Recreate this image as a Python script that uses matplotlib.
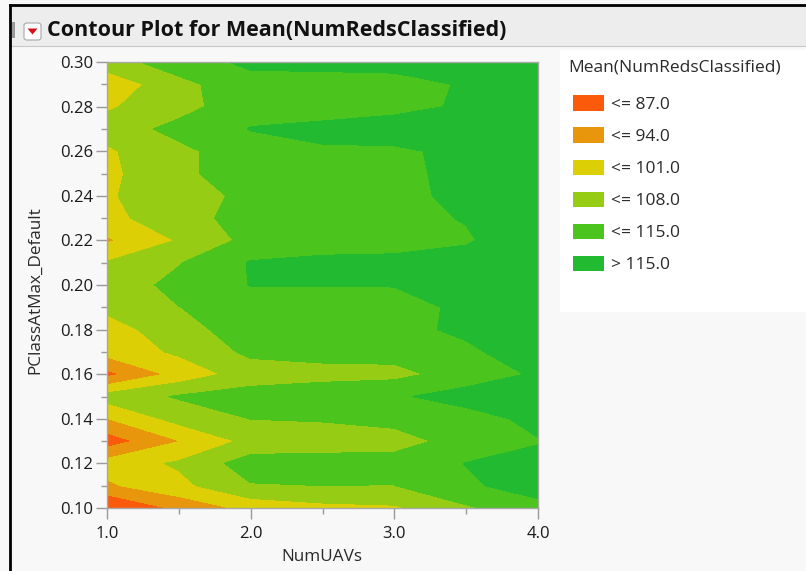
import numpy as np
import matplotlib.pyplot as plt
from matplotlib.patches import Rectangle, Polygon, FancyBboxPatch

plt.rcParams['font.family'] = ['Open Sans', 'DejaVu Sans']

# grid of runs: NumUAVs across, PClassAtMax_Default down the side
num_uavs = [1.0, 1.5, 2.0, 2.5, 3.0, 3.5, 4.0]
pclass = [0.10, 0.11, 0.12, 0.13, 0.14, 0.15, 0.16, 0.17, 0.18, 0.19, 0.20,
          0.21, 0.22, 0.23, 0.24, 0.25, 0.26, 0.27, 0.28, 0.29, 0.30]

# Mean(NumRedsClassified), one row per pclass value (bottom to top)
mean_reds = [
    [78.5, 88.7, 96.1, 99.0, 100.0, 107.0, 113.0],
    [92.9, 99.0, 107.5, 108.0, 107.9, 114.0, 117.8],
    [97.0, 102.0, 111.4, 110.5, 110.0, 115.2, 117.0],
    [83.2, 93.8, 103.0, 105.0, 106.0, 110.0, 114.6],
    [93.8, 103.5, 108.1, 108.5, 109.5, 112.0, 117.0],
    [104.0, 108.7, 111.0, 111.5, 114.0, 118.0, 118.0],
    [84.9, 96.5, 104.4, 106.0, 106.0, 111.0, 116.0],
    [96.7, 102.1, 109.5, 110.0, 110.5, 114.0, 118.0],
    [98.0, 105.0, 112.0, 113.0, 113.5, 116.0, 117.5],
    [102.6, 107.9, 111.0, 112.5, 113.0, 116.1, 117.5],
    [104.0, 110.0, 115.2, 115.2, 115.2, 116.5, 117.5],
    [101.5, 107.6, 115.5, 116.0, 116.0, 116.5, 117.5],
    [93.0, 101.5, 110.1, 113.0, 113.5, 114.6, 117.5],
    [99.0, 105.2, 110.8, 113.5, 114.0, 115.2, 117.0],
    [100.0, 106.5, 108.8, 113.5, 114.0, 115.9, 117.5],
    [99.5, 106.0, 113.0, 114.0, 114.3, 115.8, 117.5],
    [100.1, 106.0, 113.0, 114.5, 114.2, 116.2, 117.5],
    [103.5, 110.5, 115.2, 116.1, 117.5, 117.5, 117.5],
    [100.2, 105.0, 113.3, 113.0, 113.5, 115.7, 117.0],
    [96.0, 106.0, 112.5, 113.0, 113.5, 115.4, 117.0],
    [105.0, 111.5, 116.5, 116.5, 116.5, 117.0, 117.0],
]

levels = [87.0, 94.0, 101.0, 108.0, 115.0]
fill_colors = ['#FA5A0A', '#E8960C', '#DCCF06', '#96CD14', '#4CC41E', '#22BA30']
legend_labels = ['<= %.1f' % v for v in levels] + ['> %.1f' % levels[-1]]

W, H = 806, 571
fig = plt.figure(figsize=(W / 100, H / 100), dpi=100)
fig.patch.set_facecolor('#F8F8F8')


def fx(px):
    return px / W


def fy(py):
    return 1 - py / H


# outline and header strip
fig.add_artist(Rectangle((fx(10), fy(46)), fx(806) - fx(10), fy(6) - fy(46),
                         transform=fig.transFigure, facecolor='#EDEDED',
                         edgecolor='#C8C8C8', lw=0.8))
fig.add_artist(plt.Line2D([fx(10), fx(10)], [fy(5), 0], transform=fig.transFigure,
                          color='black', lw=2))
fig.add_artist(plt.Line2D([fx(10), 1], [fy(5), fy(5)], transform=fig.transFigure,
                          color='black', lw=2))
fig.add_artist(Rectangle((fx(12), fy(38)), fx(3), fy(22) - fy(38),
                         transform=fig.transFigure, facecolor='#9A9A9A', lw=0))
fig.add_artist(FancyBboxPatch((fx(24), fy(40)), fx(17), fy(23) - fy(40),
                              boxstyle='round,pad=0,rounding_size=0.004',
                              transform=fig.transFigure, facecolor='white',
                              edgecolor='#A8A8A8', lw=0.8))
fig.add_artist(Polygon([(fx(27.5), fy(28.5)), (fx(37.5), fy(28.5)), (fx(32.5), fy(34.5))],
                       closed=True, transform=fig.transFigure,
                       facecolor='#D8101A', edgecolor='none'))
fig.text(fx(47), fy(31), 'Contour Plot for Mean(NumRedsClassified)', fontsize=15.5,
         fontweight='bold', color='#111111', va='center', ha='left')

ax = fig.add_axes([fx(107), fy(508), fx(538) - fx(107), fy(62) - fy(508)])
X, Y = np.meshgrid(num_uavs, pclass)
Z = np.array(mean_reds)
bounds = [Z.min() - 1] + levels + [Z.max() + 1]
ax.contourf(X, Y, Z, levels=bounds, colors=fill_colors)

ax.set_xlim(1.0, 4.0)
ax.set_ylim(0.10, 0.30)
ax.set_xticks([1.0, 2.0, 3.0, 4.0])
ax.set_xticklabels(['%.1f' % v for v in [1.0, 2.0, 3.0, 4.0]])
ax.set_xticks([1.5, 2.5, 3.5], minor=True)
yt = np.round(np.arange(0.10, 0.301, 0.02), 2)
ax.set_yticks(yt)
ax.set_yticklabels(['%.2f' % v for v in yt])
ax.set_yticks(np.round(np.arange(0.11, 0.30, 0.02), 2), minor=True)
ax.tick_params(which='both', direction='out', color='#9A9A9A', labelsize=12,
               labelcolor='#1A1A1A', width=1)
ax.tick_params(axis='x', which='major', length=8, pad=5)
ax.tick_params(axis='y', which='major', length=8, pad=2)
ax.tick_params(which='minor', length=4)
for s in ax.spines.values():
    s.set_color('#A8A8A8')
    s.set_linewidth(1)

fig.text(fx(35), fy(290), 'PClassAtMax_Default', rotation=90, fontsize=12.3,
         color='#2A2A2A', ha='center', va='center')
fig.text(fx(322), fy(557), 'NumUAVs', fontsize=12.3, color='#2A2A2A',
         ha='center', va='center')

# legend panel
fig.add_artist(Rectangle((fx(560), fy(312)), fx(806) - fx(560), fy(50) - fy(312),
                         transform=fig.transFigure, facecolor='white', lw=0))
fig.text(fx(568), fy(67), 'Mean(NumRedsClassified)', fontsize=12.5, color='#2A2A2A',
         ha='left', va='center')
for i, (c, lab) in enumerate(zip(fill_colors, legend_labels)):
    cy = 103 + 32 * i
    fig.add_artist(Rectangle((fx(573), fy(cy + 7.5)), fx(31), fy(cy - 7.5) - fy(cy + 7.5),
                             transform=fig.transFigure, facecolor=c, lw=0))
    fig.text(fx(611), fy(cy + 2), lab, fontsize=12.5, color='#2A2A2A',
             ha='left', va='center')

fig.savefig('out.png', dpi=100, facecolor=fig.get_facecolor())
